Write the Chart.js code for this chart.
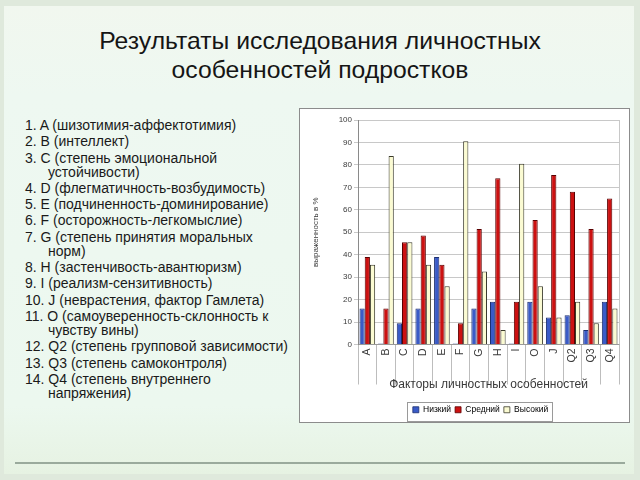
<!DOCTYPE html>
<html>
<head>
<meta charset="utf-8">
<script src="https://cdn.jsdelivr.net/npm/chart.js@4"></script>
<style>
html, body { margin: 0; padding: 0; }
body {
	width: 640px; height: 480px; overflow: hidden; position: relative;
	background: #dfe9dc;
	font-family: "Liberation Sans", Arial, sans-serif;
}
#slide {
	position: absolute; left: 4px; top: 6px; width: 630px; height: 468px;
	background: linear-gradient(#f1f7ef 0px, #eef8f1 90px, #ecf8ef 400px, #e6f2e2 468px);
}
#rule {
	position: absolute; left: 15px; top: 462px; width: 610px; height: 2px;
	background: #9aaa9c;
}
#title {
	position: absolute; left: 0; top: 26px; width: 640px;
	text-align: center; font-size: 24px; line-height: 29px; color: #151515;
	font-family: "Liberation Sans Narrow", "Liberation Sans", Arial, sans-serif;
	transform: scaleX(1.03);
}
#list {
	position: absolute; left: 25px; top: 118px; width: 300px;
	margin: 0; padding: 0; list-style: none;
	font-size: 14px; line-height: 14px; color: #1a1a1a;
}
#list li { padding-left: 23px; text-indent: -23px; margin-bottom: 2.3px; white-space: nowrap; }
#box {
	position: absolute; left: 299px; top: 108px; width: 331px; height: 315px;
	background: #fff; border: 1px solid #8c8c8c; box-sizing: border-box;
}
</style>
</head>
<body>
<div id="slide"></div>
<div id="rule"></div>
<div id="title">Результаты исследования личностных<br>особенностей подростков</div>
<ul id="list">
	<li>1. A (шизотимия-аффектотимия)</li>
	<li>2. B (интеллект)</li>
	<li>3. C (степень эмоциональной<br>устойчивости)</li>
	<li>4. D (флегматичность-возбудимость)</li>
	<li>5. E (подчиненность-доминирование)</li>
	<li>6. F (осторожность-легкомыслие)</li>
	<li>7. G (степень принятия моральных<br>норм)</li>
	<li>8. H (застенчивость-авантюризм)</li>
	<li>9. I (реализм-сензитивность)</li>
	<li>10. J (неврастения, фактор Гамлета)</li>
	<li>11. O (самоуверенность-склонность к<br>чувству вины)</li>
	<li>12. Q2 (степень групповой зависимости)</li>
	<li>13. Q3 (степень самоконтроля)</li>
	<li>14. Q4 (степень внутреннего<br>напряжения)</li>
</ul>
<div id="box"><canvas id="chart" width="329" height="313"></canvas></div>
<script>
// factors on the x axis (O comes before J in the original)
let factors = ["A", "B", "C", "D", "E", "F", "G", "H", "I", "O", "J", "Q2", "Q3", "Q4"];
let lowLevel  = [16, 0.4, 9.5, 16, 39, 0.4, 16, 19, 0.4, 19, 12, 13, 6.5, 19];
let midLevel  = [39, 16, 45.5, 48.5, 35.5, 9.5, 51.5, 74, 19, 55.5, 75.5, 68, 51.5, 65];
let highLevel = [35.5, 84, 45.5, 35.5, 26, 90.5, 32.5, 6.5, 80.5, 26, 12, 19, 9.5, 16];
let seriesNames = ["Низкий", "Средний", "Высокий"];
let yTicks = [0, 10, 20, 30, 40, 50, 60, 70, 80, 90, 100];

let lowColor = "#3a5bc7", midColor = "#cc1111", highColor = "#fbfbd2";
let gridColor = "#c8c8c8", textColor = "#3a3a3a";
let legendShiftX = 21, legendShiftY = 2;

// legend sits a bit right of centre in the original
let moveLegend = {
	id: "moveLegend",
	afterLayout(chart) {
		let lg = chart.legend;
		lg.left += legendShiftX;
		lg.right += legendShiftX;
		lg.top += legendShiftY;
		lg.bottom += legendShiftY;
		lg.legendHitBoxes.forEach(h => { h.left += legendShiftX; h.top += legendShiftY; });
	}
};

// thin frame right of the plot and round the legend
let frames = {
	id: "frames",
	afterDraw(chart) {
		let ctx = chart.ctx;
		let a = chart.chartArea;
		ctx.save();
		ctx.strokeStyle = gridColor;
		ctx.lineWidth = 1;
		ctx.beginPath();
		ctx.moveTo(Math.round(a.right) + 0.5, a.top);
		ctx.lineTo(Math.round(a.right) + 0.5, a.bottom);
		ctx.stroke();
		let lg = chart.legend;
		if (lg && lg.legendHitBoxes.length) {
			let first = lg.legendHitBoxes[0], last = lg.legendHitBoxes[lg.legendHitBoxes.length - 1];
			ctx.strokeStyle = "#9a9a9a";
			ctx.strokeRect(Math.round(first.left) - 5.5, Math.round(first.top) - 5.5,
				Math.round(last.left + last.width - first.left) + 10, Math.round(first.height) + 10);
		}
		ctx.restore();
	}
};

let barStyle = { borderWidth: 1, barPercentage: 1.0, categoryPercentage: 0.84 };

new Chart(document.getElementById("chart"), {
	type: "bar",
	data: {
		labels: factors,
		datasets: [
			Object.assign({ label: seriesNames[0], data: lowLevel, backgroundColor: lowColor, borderColor: "#1c2f70" }, barStyle),
			Object.assign({ label: seriesNames[1], data: midLevel, backgroundColor: midColor, borderColor: "#5a0000" }, barStyle),
			Object.assign({ label: seriesNames[2], data: highLevel, backgroundColor: highColor, borderColor: "#3a3a2a" }, barStyle)
		]
	},
	options: {
		responsive: false,
		animation: false,
		layout: { padding: { top: 11, right: 10, left: 0, bottom: 0 } },
		plugins: {
			tooltip: { enabled: false },
			legend: {
				position: "bottom",
				labels: {
					boxWidth: 6, boxHeight: 6, padding: 4,
					color: "#222", font: { size: 8.5, family: "'Liberation Sans', Arial" },
					generateLabels(chart) {
						return chart.data.datasets.map((ds, i) => ({
							text: ds.label, fillStyle: ds.backgroundColor,
							strokeStyle: ds.borderColor, lineWidth: 0.8, datasetIndex: i
						}));
					}
				}
			}
		},
		scales: {
			x: {
				offset: true,
				grid: { offset: true, drawOnChartArea: false, drawTicks: true, tickLength: 40, color: "#bdbdbd" },
				border: { display: true, color: "#9a9a9a" },
				ticks: {
					minRotation: 90, maxRotation: 90, padding: -36,
					color: textColor, font: { size: 10.5, family: "'Liberation Sans', Arial" }
				},
				title: {
					display: true, text: "Факторы личностных особенностей",
					color: textColor, font: { size: 12, family: "'Liberation Sans', Arial" },
					padding: { top: 0, bottom: 8 }
				},
				afterFit(scale) { scale.height = 55; }
			},
			y: {
				min: 0, max: 100,
				afterBuildTicks(scale) { scale.ticks = yTicks.map(v => ({ value: v })); },
				grid: { color: gridColor, tickLength: 4, drawTicks: true },
				border: { display: true, color: "#8a8a8a" },
				ticks: { padding: 2, color: textColor, font: { size: 8, family: "'Liberation Sans', Arial" } },
				title: {
					display: true, text: "выраженность в %",
					color: textColor, font: { size: 8, family: "'Liberation Sans', Arial" },
					padding: { top: 11, bottom: 0 }
				},
				afterFit(scale) { scale.width = 58; }
			}
		}
	},
	plugins: [moveLegend, frames]
});
</script>
</body>
</html>
